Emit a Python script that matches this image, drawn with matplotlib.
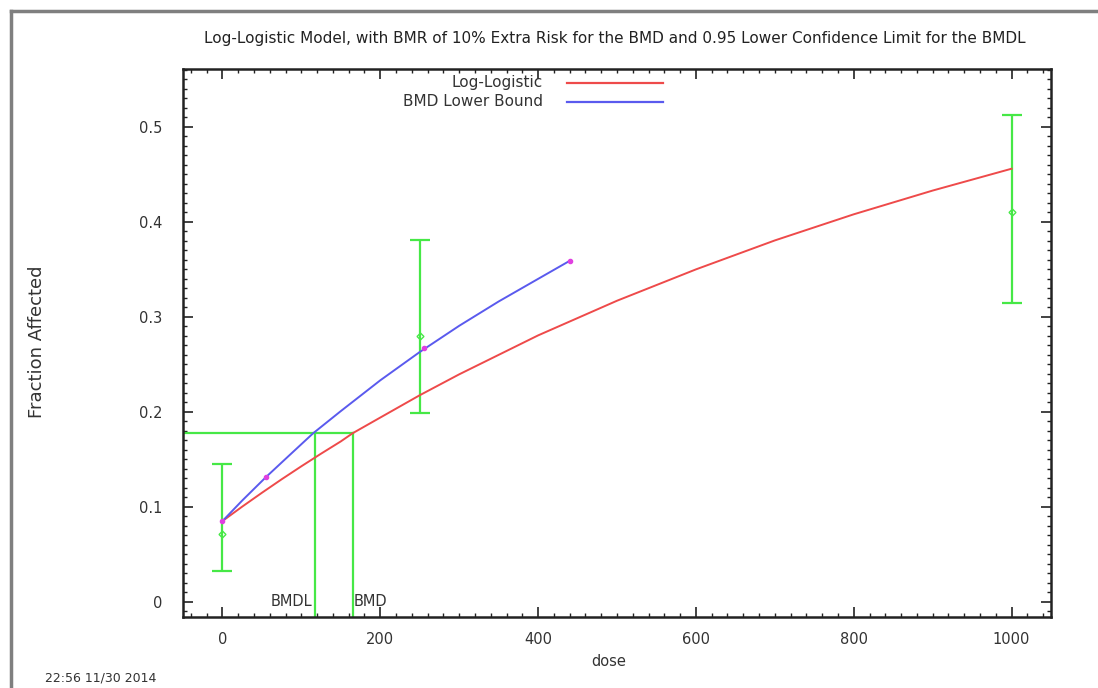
import matplotlib
matplotlib.use("Agg")
import matplotlib.pyplot as plt
from matplotlib.lines import Line2D
from matplotlib.ticker import MultipleLocator

plt.rcParams['font.family'] = ['DejaVu Sans']

# Observed data (means with confidence limits)
obs_dose = [0, 250, 1000]
obs_mean = [0.0716, 0.280, 0.410]
obs_low = [0.032, 0.199, 0.315]
obs_high = [0.145, 0.381, 0.513]

# Log-logistic fitted curve
fit_dose = [0, 10, 25, 50, 75, 100, 125, 150, 165, 200, 250, 300, 400, 500, 600, 700, 800, 900, 1000]
fit_resp = [0.085, 0.0911, 0.1002, 0.1148, 0.1290, 0.1427, 0.1560, 0.1689, 0.1775, 0.1940, 0.2175, 0.2395,
            0.2805, 0.3170, 0.3500, 0.3805, 0.4080, 0.4330, 0.4560]

# BMD lower bound curve
lb_dose = [0, 25, 55, 85, 115, 150, 200, 250, 300, 350, 400, 440]
lb_resp = [0.085, 0.1066, 0.1312, 0.1544, 0.1775, 0.2008, 0.2332, 0.2630, 0.2906, 0.3162, 0.3400, 0.3590]
lb_pt_dose = [0, 55, 255, 440]
lb_pt_resp = [0.085, 0.1312, 0.2670, 0.3590]

bmr_level = 0.178
bmdl = 117
bmd = 165

series_labels = ['Log-Logistic', 'BMD Lower Bound']
title = "Log-Logistic Model, with BMR of 10% Extra Risk for the BMD and 0.95 Lower Confidence Limit for the BMDL"

GREEN = '#46e846'
RED = '#ee4a4a'
BLUE = '#5a5aee'
MAG = '#e040e0'
TXT = '#333333'

W, H = 1098, 688
fig = plt.figure(figsize=(W / 100, H / 100), dpi=100)
ax = fig.add_axes([183 / W, 1 - 617 / H, (1051 - 183) / W, (617 - 69) / H])

xmin, xmax = -50, 1050
ymin, ymax = -0.016, 0.561
ax.set_xlim(xmin, xmax)
ax.set_ylim(ymin, ymax)

# BMD / BMDL lines
ax.plot([xmin, bmd], [bmr_level, bmr_level], color=GREEN, lw=1.6, zorder=2)
ax.plot([bmdl, bmdl], [ymin, bmr_level], color=GREEN, lw=1.6, zorder=2)
ax.plot([bmd, bmd], [ymin, bmr_level], color=GREEN, lw=1.6, zorder=2)

# error bars
ax.errorbar(obs_dose, obs_mean,
            yerr=[[m - l for m, l in zip(obs_mean, obs_low)], [h - m for m, h in zip(obs_mean, obs_high)]],
            fmt='D', ms=3.5, mfc='none', mec=GREEN, color=GREEN, ecolor=GREEN, elinewidth=1.6,
            capsize=7.5, capthick=1.6, zorder=3)

# curves
ax.plot(fit_dose, fit_resp, color=RED, lw=1.4, zorder=4)
ax.plot(lb_dose, lb_resp, color=BLUE, lw=1.4, zorder=5)
ax.plot(lb_pt_dose, lb_pt_resp, ls='none', marker='o', ms=3, color=MAG, zorder=6)

# BMDL/BMD labels
ax.text(bmdl - 3, 0.0, 'BMDL', ha='right', va='center', fontsize=10.5, color=TXT)
ax.text(bmd + 1, 0.0, 'BMD', ha='left', va='center', fontsize=10.5, color=TXT)

# legend (gnuplot style: text right-aligned, sample line to the right)
for lab, col, yp in zip(series_labels, [RED, BLUE], [83, 102]):
    fig.text(543 / W, 1 - yp / H, lab, ha='right', va='center', fontsize=11, color=TXT)
    fig.add_artist(Line2D([567 / W, 663 / W], [1 - yp / H, 1 - yp / H], color=col, lw=1.6,
                          transform=fig.transFigure))

# ticks
ax.xaxis.set_major_locator(MultipleLocator(200))
ax.xaxis.set_minor_locator(MultipleLocator(20))
ax.yaxis.set_major_locator(MultipleLocator(0.1))
ax.yaxis.set_minor_locator(MultipleLocator(0.01))
ax.tick_params(which='both', direction='in', top=True, right=True, colors='#222222',
               labelcolor=TXT, labelsize=10.5)
ax.tick_params(which='major', length=7, width=1.2)
ax.tick_params(which='minor', length=3, width=1.0)
ax.yaxis.set_major_formatter(plt.FuncFormatter(lambda v, p: '0' if abs(v) < 1e-9 else f'{v:.1f}'))
ax.tick_params(axis='y', pad=15)
ax.tick_params(axis='x', pad=11)
for s in ax.spines.values():
    s.set_linewidth(1.8)
    s.set_color('#222222')

ax.set_xlabel('dose', fontsize=10.5, color=TXT)
ax.xaxis.set_label_coords((609 - 183) / (1051 - 183), -(662 - 617) / (617 - 69))
ax.xaxis.label.set_va('center')
ax.set_ylabel('Fraction Affected', fontsize=13, color=TXT)
ax.yaxis.set_label_coords(-(183 - 37) / (1051 - 183), (617 - 342) / (617 - 69))
ax.yaxis.label.set_va('center')

fig.text(615 / W, 1 - 39 / H, title, fontsize=11, color='#222222', ha='center', va='center')
fig.text(45 / W, 1 - 678 / H, '22:56 11/30 2014', fontsize=9, color=TXT, ha='left', va='center')

# outer frame
fig.add_artist(Line2D([11 / W, 1.0], [1 - 11 / H, 1 - 11 / H], color='#7f7f7f', lw=2.5,
                      transform=fig.transFigure))
fig.add_artist(Line2D([11 / W, 11 / W], [0, 1 - 11 / H], color='#7f7f7f', lw=2.5,
                      transform=fig.transFigure))

fig.savefig('out.png', dpi=100)
